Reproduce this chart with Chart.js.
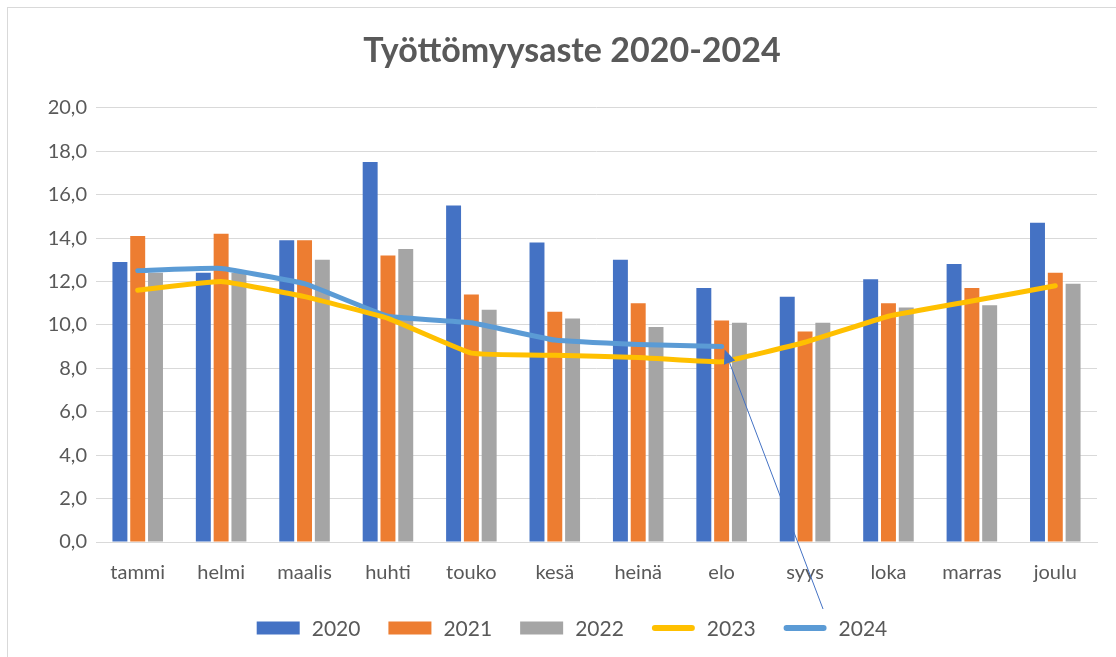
<!DOCTYPE html>
<html>
<head>
<meta charset="utf-8">
<script src="https://cdn.jsdelivr.net/npm/chart.js@4.4.1/dist/chart.umd.min.js"></script>
<style>
  html, body { margin: 0; padding: 0; background: #fff; overflow: hidden; }
  #wrap { position: relative; width: 1116px; height: 657px; overflow: hidden; }
  #frame { position: absolute; left: 7px; top: 7px; width: 1200px; height: 700px;
           border-left: 1px solid #D9D9D9; border-top: 1px solid #D9D9D9; pointer-events: none; }
  canvas { position: absolute; left: 0; top: 0; }
</style>
</head>
<body>
<div id="wrap">
  <canvas id="barChart" width="1136" height="657"></canvas>
  <div id="frame"></div>
</div>
<script>
const months = ['tammi', 'helmi', 'maalis', 'huhti', 'touko', 'kesä', 'heinä', 'elo', 'syys', 'loka', 'marras', 'joulu']

const rate2020 = [12.9, 12.4, 13.9, 17.5, 15.5, 13.8, 13.0, 11.7, 11.3, 12.1, 12.8, 14.7]
const rate2021 = [14.1, 14.2, 13.9, 13.2, 11.4, 10.6, 11.0, 10.2, 9.7, 11.0, 11.7, 12.4]
const rate2022 = [12.4, 12.4, 13.0, 13.5, 10.7, 10.3, 9.9, 10.1, 10.1, 10.8, 10.9, 11.9]
const rate2023 = [11.6, 12.0, 11.3, 10.3, 8.7, 8.6, 8.5, 8.3, 9.2, 10.4, 11.1, 11.8]
const rate2024 = [12.5, 12.6, 11.9, 10.4, 10.1, 9.3, 9.1, 9.0, null, null, null, null]

const yTicks = [0, 2, 4, 6, 8, 10, 12, 14, 16, 18, 20]

const fontFam = 'Lato, "Open Sans", sans-serif'
const textGray = '#595959'

// callout arrow pointing at the last 2024 value
const arrowPlugin = {
  id: 'arrowCallout',
  afterDatasetsDraw(chart) {
    const meta = chart.getDatasetMeta(4)
    let last = 0
    rate2024.forEach((v, i) => { if (v !== null) last = i })
    const pt = meta.data[last]
    const tipX = pt.x + 3
    const tipY = pt.y + 3
    const startX = chart.scales.x.getPixelForValue(last + 1) + 18
    const startY = chart.chartArea.bottom + 67
    const ctx = chart.ctx
    const ang = Math.atan2(tipY - startY, tipX - startX)
    const len = 14, half = 6
    const bx = tipX - Math.cos(ang) * len
    const by = tipY - Math.sin(ang) * len
    ctx.save()
    ctx.strokeStyle = '#4472C4'
    ctx.fillStyle = '#4472C4'
    ctx.lineWidth = 1
    ctx.beginPath()
    ctx.moveTo(startX, startY)
    ctx.lineTo(bx, by)
    ctx.stroke()
    ctx.beginPath()
    ctx.moveTo(tipX, tipY)
    ctx.lineTo(bx + Math.sin(ang) * half, by - Math.cos(ang) * half)
    ctx.lineTo(bx - Math.sin(ang) * half, by + Math.cos(ang) * half)
    ctx.closePath()
    ctx.fill()
    ctx.restore()
  }
}

// legend row under the axis, spaced like the office chart
const legendPlugin = {
  id: 'bottomLegend',
  afterDraw(chart) {
    const ctx = chart.ctx
    ctx.save()
    ctx.font = '21px ' + fontFam
    ctx.textBaseline = 'middle'
    const boxW = 43, boxH = 13, gap = 12, space = 28
    const items = chart.data.datasets.map(ds => ({ ds: ds, tw: ctx.measureText(ds.label).width }))
    const total = items.reduce((s, it) => s + boxW + gap + it.tw, 0) + space * (items.length - 1)
    let x = (8 + chart.width) / 2 - total / 2
    const y = chart.chartArea.bottom + 86
    items.forEach(it => {
      if (it.ds.type === 'line') {
        ctx.strokeStyle = it.ds.borderColor
        ctx.lineWidth = 6
        ctx.lineCap = 'round'
        ctx.beginPath()
        ctx.moveTo(x + 3, y)
        ctx.lineTo(x + boxW - 3, y)
        ctx.stroke()
      } else {
        ctx.fillStyle = it.ds.backgroundColor
        ctx.fillRect(x, y - boxH / 2, boxW, boxH)
      }
      ctx.fillStyle = textGray
      ctx.fillText(it.ds.label, x + boxW + gap, y + 1)
      x += boxW + gap + it.tw + space
    })
    ctx.restore()
  }
}

const barOpts = { categoryPercentage: 0.64, barPercentage: 0.84, borderWidth: 0, order: 2 }
const lineOpts = { type: 'line', borderWidth: 5, pointRadius: 0, tension: 0.1,
                   borderCapStyle: 'round', borderJoinStyle: 'round', order: 1, spanGaps: false }

const data = {
  labels: months,
  datasets: [
    { label: '2020', data: rate2020, backgroundColor: '#4472C4', ...barOpts },
    { label: '2021', data: rate2021, backgroundColor: '#ED7D31', ...barOpts },
    { label: '2022', data: rate2022, backgroundColor: '#A5A5A5', ...barOpts },
    { label: '2023', data: rate2023, borderColor: '#FFC000', backgroundColor: '#FFC000', ...lineOpts },
    { label: '2024', data: rate2024, borderColor: '#5B9BD5', backgroundColor: '#5B9BD5', ...lineOpts }
  ]
}

const ctx = document.getElementById('barChart').getContext('2d')

const myChart = new Chart(ctx, {
  type: 'bar',
  data: data,
  plugins: [arrowPlugin, legendPlugin],
  options: {
    responsive: false,
    animation: false,
    layout: { padding: { left: 8, right: 0, top: 0, bottom: 53 } },
    plugins: {
      title: {
        display: true,
        text: 'Työttömyysaste 2020-2024',
        color: textGray,
        font: { family: fontFam, size: 34, weight: 'bold' },
        padding: { top: 31, bottom: 36 }
      },
      legend: { display: false },
      tooltip: { enabled: false }
    },
    scales: {
      x: {
        grid: { display: false, drawTicks: false },
        border: { color: '#D9D9D9', width: 1 },
        ticks: { color: textGray, font: { family: fontFam, size: 20 }, padding: 19 }
      },
      y: {
        min: 0,
        max: 20,
        afterBuildTicks(scale) { scale.ticks = yTicks.map(v => ({ value: v })) },
        afterFit(scale) { scale.width = 88 },
        grid: { color: '#D9D9D9', lineWidth: 1, drawTicks: false },
        border: { display: false },
        ticks: {
          color: textGray,
          font: { family: fontFam, size: 20 },
          padding: 9,
          callback: v => v.toFixed(1).replace('.', ',')
        }
      },
      // empty margin on the right, the frame runs past the window edge
      yPad: {
        type: 'linear',
        position: 'right',
        grid: { display: false, drawTicks: false },
        border: { display: false },
        ticks: { display: false },
        afterFit(scale) { scale.width = 39 }
      }
    }
  }
})
</script>
</body>
</html>
